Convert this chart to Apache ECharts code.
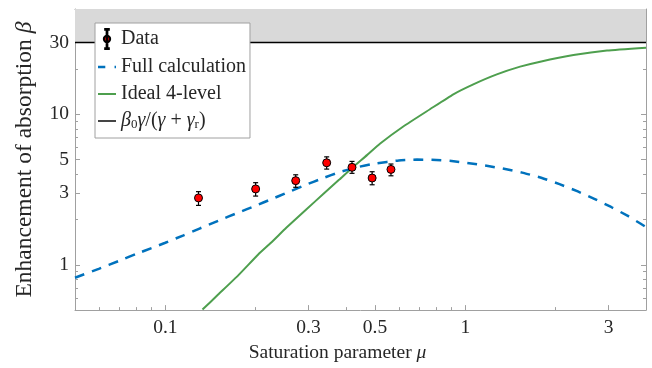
<!DOCTYPE html>
<html>
<head>
<meta charset="utf-8">
<script src="https://cdn.jsdelivr.net/npm/echarts@6/dist/echarts.min.js"></script>
<style>
html, body { margin: 0; padding: 0; background: #fff; }
#main { width: 652px; height: 368px; }
</style>
</head>
<body>
<div id="main"></div>
<script>
const dataMu   = [0.129, 0.2, 0.272, 0.345, 0.419, 0.489, 0.565];
const dataBeta = [2.78, 3.19, 3.62, 4.76, 4.44, 3.77, 4.30];
const dataLow  = [2.48, 2.86, 3.27, 4.32, 4.05, 3.40, 3.90];
const dataHigh = [3.06, 3.51, 3.96, 5.21, 4.86, 4.15, 4.67];

// full calculation (dashed blue)
const fullMu   = [0.05, 0.06, 0.07, 0.08, 0.09, 0.1, 0.115, 0.13, 0.15, 0.175, 0.2, 0.225, 0.25, 0.29, 0.335, 0.38, 0.43, 0.5, 0.6, 0.69, 0.8, 0.9, 1.03, 1.19, 1.37, 1.56, 1.8, 2.06, 2.37, 2.69, 3.06, 3.48, 3.83, 4.0];
const fullBeta = [0.82, 0.94, 1.06, 1.18, 1.29, 1.40, 1.57, 1.74, 1.96, 2.22, 2.47, 2.72, 2.97, 3.36, 3.76, 4.12, 4.42, 4.70, 4.93, 5.0, 4.97, 4.89, 4.73, 4.53, 4.31, 4.08, 3.77, 3.43, 3.07, 2.74, 2.42, 2.11, 1.88, 1.78];

// ideal 4-level (green)
const idealMu   = [0.133, 0.15, 0.175, 0.204, 0.225, 0.253, 0.2955, 0.336, 0.38, 0.419, 0.47, 0.519, 0.621, 0.762, 0.912, 1.063, 1.273, 1.522, 1.776, 2.293, 2.965, 4.0];
const idealBeta = [0.504, 0.634, 0.85, 1.17, 1.40, 1.76, 2.34, 2.95, 3.68, 4.40, 5.35, 6.37, 8.29, 10.79, 13.57, 15.8, 18.4, 20.7, 22.34, 24.7, 26.5, 27.66];

// limit beta0*gamma/(gamma+gamma_r)
const limitMu   = [0.05, 4];
const limitBeta = [30, 30];

const xMajor = [0.1, 0.3, 0.5, 1, 3];
const xMinor = [0.06, 0.07, 0.08, 0.09, 0.2, 0.4, 0.6, 0.7, 0.8, 0.9, 2];
const yMajor = [1, 3, 5, 10, 30];
const yMinor = [0.6, 0.7, 0.8, 0.9, 2, 4, 6, 7, 8, 9, 20, 40];

const FONT = 'Liberation Serif';
const GREY = '#a0a0a0';
const TXT = '#262626';
const BLUE = '#0072BD';
const GREEN = '#4e9f4e';

function zip(a, b) { return a.map((v, i) => [v, b[i]]); }

function makeAxis(dim, pos, ticks, len, major, extra) {
  const ax = {
    type: 'log', logBase: 10,
    min: dim === 'x' ? 0.05 : 0.5,
    max: dim === 'x' ? 4 : 50,
    position: pos,
    axisLine: { show: major, onZero: false, lineStyle: { color: GREY, width: 1 } },
    axisTick: { show: true, inside: true, length: len, customValues: ticks, lineStyle: { color: GREY, width: 1 } },
    axisLabel: { show: false },
    splitLine: { show: false },
    minorTick: { show: false }
  };
  return Object.assign(ax, extra || {});
}

const chart = echarts.init(document.getElementById('main'));

chart.setOption({
  animation: false,
  grid: { left: 75, top: 9, width: 571, height: 302 },
  xAxis: [
    makeAxis('x', 'bottom', xMajor, 5, true, {
      axisLabel: { show: true, customValues: xMajor, margin: 8, color: TXT, fontFamily: FONT, fontSize: 19.5, formatter: v => String(v) },
      name: 'Saturation parameter {i|μ}', nameLocation: 'middle', nameGap: 31,
      nameTextStyle: { color: TXT, fontFamily: FONT, fontSize: 19.5, padding: [0, 46, 0, 0],
        rich: { i: { fontStyle: 'italic', fontFamily: FONT, fontSize: 19.5, color: TXT } } }
    }),
    makeAxis('x', 'bottom', xMinor, 3, false),
    makeAxis('x', 'top', xMajor, 5, true),
    makeAxis('x', 'top', xMinor, 3, false)
  ],
  yAxis: [
    makeAxis('y', 'left', yMajor, 5, true, {
      axisLabel: { show: true, customValues: yMajor, margin: 6, color: TXT, fontFamily: FONT, fontSize: 19.5, formatter: v => String(v) },
      name: 'Enhancement of absorption {i|β}', nameLocation: 'middle', nameGap: 38,
      nameTextStyle: { color: TXT, fontFamily: FONT, fontSize: 23.5,
        rich: { i: { fontStyle: 'italic', fontFamily: FONT, fontSize: 23.5, color: TXT } } }
    }),
    makeAxis('y', 'left', yMinor, 3, false),
    makeAxis('y', 'right', yMajor, 5, true),
    makeAxis('y', 'right', yMinor, 3, false)
  ],
  legend: {
    left: 95, top: 23,
    orient: 'vertical',
    backgroundColor: '#fff',
    borderColor: GREY, borderWidth: 1, borderRadius: 0,
    padding: [5, 4, 7, 3],
    itemGap: 7, itemWidth: 18, itemHeight: 20,
    selectedMode: false,
    data: [
      { name: 'Data', icon: 'path://M9.6,0H10.4V22H9.6Z M8,0H12V0.8H8Z M8,21.2H12V22H8Z M13.5,11A3.5,3.5,0,1,1,6.5,11A3.5,3.5,0,1,1,13.5,11Z' },
      { name: 'Full calculation', icon: 'path://M0,0H7.5V2.5H0Z M17,0H18.5V2.5H17Z' },
      { name: 'Ideal 4-level', icon: 'path://M0,0H18.5V2H0Z' },
      { name: 'limit', icon: 'path://M0,0H18.5V1.5H0Z' }
    ],
    formatter: name => name === 'limit' ? '{i|β}{s|0}{i|γ}/({i|γ} + {i|γ}{s|r})' : name,
    textStyle: {
      color: TXT, fontFamily: FONT, fontSize: 20, lineHeight: 20,
      rich: {
        i: { fontStyle: 'italic', fontFamily: FONT, fontSize: 20, lineHeight: 20, color: TXT },
        s: { fontFamily: FONT, fontSize: 13, lineHeight: 8, verticalAlign: 'bottom', color: TXT }
      }
    }
  },
  series: [
    {
      name: 'band', type: 'line', z: 1, silent: true,
      data: zip(limitMu, limitBeta), symbol: 'none', lineStyle: { width: 0, opacity: 0 },
      markArea: { silent: true, itemStyle: { color: '#d9d9d9' }, data: [[{ yAxis: 30 }, { yAxis: 50 }]] }
    },
    {
      name: 'limit', type: 'line', z: 3,
      data: zip(limitMu, limitBeta), symbol: 'none',
      lineStyle: { color: '#000', width: 1.5 }, itemStyle: { color: '#000' }
    },
    {
      name: 'Ideal 4-level', type: 'line', z: 3,
      data: zip(idealMu, idealBeta), symbol: 'none', smooth: 0.15,
      lineStyle: { color: GREEN, width: 2 }, itemStyle: { color: GREEN }
    },
    {
      name: 'Full calculation', type: 'line', z: 3,
      data: zip(fullMu, fullBeta), symbol: 'none', smooth: 0.15,
      lineStyle: { color: BLUE, width: 2.5, type: [10, 8] }, itemStyle: { color: BLUE }
    },
    {
      name: 'errbar', type: 'custom', z: 4,
      data: dataMu.map((m, i) => [m, dataLow[i], dataHigh[i]]),
      renderItem: function (params, api) {
        const lo = api.coord([api.value(0), api.value(1)]);
        const hi = api.coord([api.value(0), api.value(2)]);
        const st = { stroke: '#000', lineWidth: 1.2 };
        return {
          type: 'group',
          children: [
            { type: 'line', shape: { x1: lo[0], y1: lo[1], x2: hi[0], y2: hi[1] }, style: st },
            { type: 'line', shape: { x1: lo[0] - 2.5, y1: lo[1], x2: lo[0] + 2.5, y2: lo[1] }, style: st },
            { type: 'line', shape: { x1: hi[0] - 2.5, y1: hi[1], x2: hi[0] + 2.5, y2: hi[1] }, style: st }
          ]
        };
      }
    },
    {
      name: 'Data', type: 'scatter', z: 5,
      data: zip(dataMu, dataBeta), symbol: 'circle', symbolSize: 8,
      itemStyle: { color: '#ff0000', borderColor: '#000', borderWidth: 1, opacity: 1 }
    }
  ]
});
</script>
</body>
</html>
